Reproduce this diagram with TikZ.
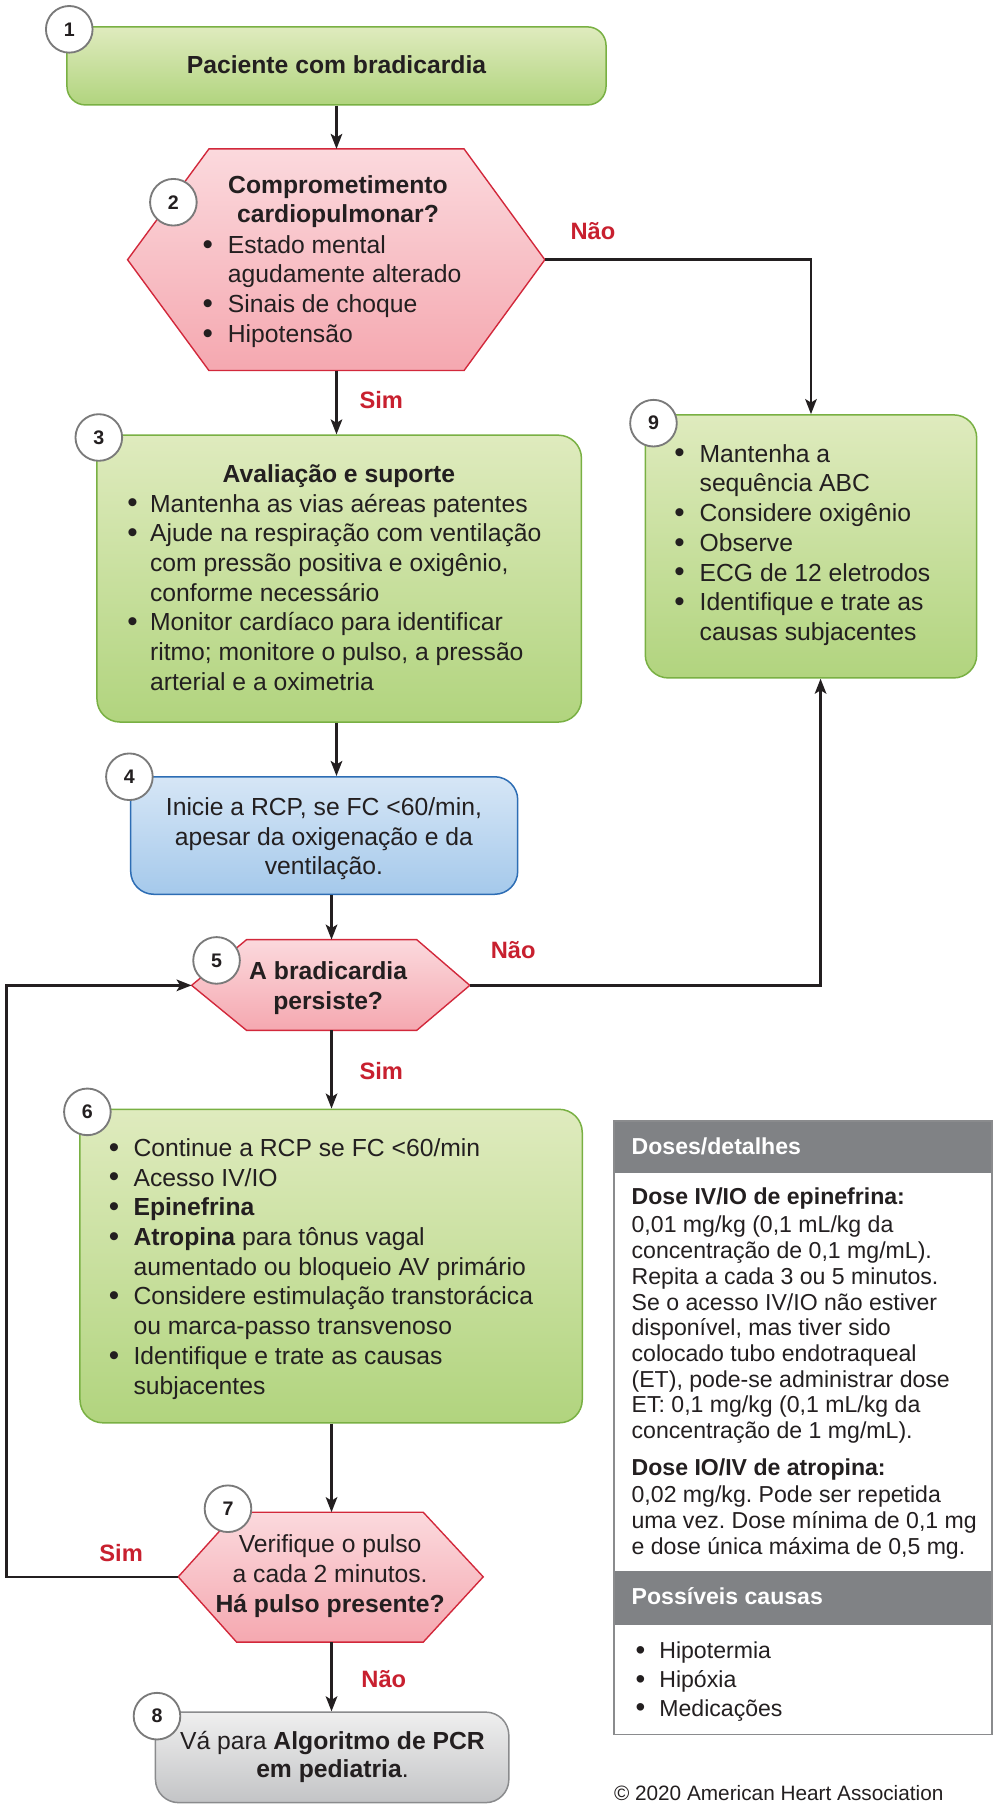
\documentclass[tikz,border=0pt]{standalone}
\usepackage{fontspec}
\setmainfont{Liberation Sans}
\usetikzlibrary{arrows.meta}
\definecolor{gtop}{HTML}{DFEBBE}
\definecolor{gbot}{HTML}{B1D47E}
\definecolor{gline}{HTML}{79B043}
\definecolor{ptop}{HTML}{FBD9DD}
\definecolor{pbot}{HTML}{F5A8B0}
\definecolor{pline}{HTML}{D2283B}
\definecolor{btop}{HTML}{D6E6F6}
\definecolor{bbot}{HTML}{A5C9EB}
\definecolor{bline}{HTML}{2D6DB4}
\definecolor{ytop}{HTML}{EFEFEF}
\definecolor{ybot}{HTML}{C3C4C6}
\definecolor{yline}{HTML}{8A8B8D}
\definecolor{hdr}{HTML}{808285}
\definecolor{red1}{HTML}{C8202F}
\definecolor{ink}{HTML}{231F20}
\definecolor{ngray}{HTML}{7A7A7A}
\newlength{\bind}
\newcommand{\bitem}[1]{\par\hangindent=\bind\hangafter=1\noindent\makebox[\bind][l]{\raisebox{-0.03em}{\scalebox{1.2}{\textbullet}}}#1}
\newcommand{\fmain}{\fontsize{21.4}{25.75}\selectfont}
\newcommand{\fdose}{\fontsize{20}{22.25}\selectfont}
\hyphenpenalty=10000
\frenchspacing
\begin{document}
\frenchspacing
\begin{tikzpicture}[x=1pt,y=-1pt,
  gbox/.style={draw=gline, line width=1.3pt, rounded corners=20pt, top color=gtop, bottom color=gbot, inner sep=0},
  bbox/.style={draw=bline, line width=1.3pt, rounded corners=20pt, top color=btop, bottom color=bbot, inner sep=0},
  ybox/.style={draw=yline, line width=1.3pt, rounded corners=20pt, top color=ytop, bottom color=ybot, inner sep=0},
  hexp/.style={draw=pline, line width=1.2pt, top color=ptop, bottom color=pbot},
  num/.style={circle, draw=ngray, line width=1.6pt, fill=white, minimum size=40.4pt, inner sep=0, font=\fontsize{17}{17}\selectfont\bfseries, text=ink},
  arr/.style={draw=ink, line width=2.2pt, -{Stealth[length=13pt,width=10pt,inset=3pt]}},
  lbl/.style={text=red1, font=\fontsize{20.5}{20.5}\selectfont\bfseries, inner sep=0},
  tx/.style={inner sep=0, text=ink, font=\fmain},
  tb/.style={tx, anchor=base west},
  tc/.style={tx, anchor=base},
  hdrbox/.style={fill=hdr, draw=none, inner sep=0, minimum width=327.6pt},
  htxt/.style={inner sep=0, anchor=base west, text=white, font=\fontsize{20}{22}\selectfont\bfseries},
  dtxt/.style={inner sep=0, anchor=base west, text=ink, font=\fdose},
]
\fill[white] (0,0) rectangle (866,1568);
\useasboundingbox (0,0) rectangle (866,1568);

% ---------- boxes ----------
\node[gbox, rounded corners=16pt, minimum width=467pt, minimum height=67.6pt] (b1) at (291.5,57.1) {};
\node[gbox, minimum width=419.7pt, minimum height=248.5pt] (b3) at (293.85,501.25) {};
\node[gbox, minimum width=287.1pt, minimum height=227.9pt] (b9) at (702.55,473.35) {};
\node[bbox, minimum width=335.3pt, minimum height=101.8pt] (b4) at (280.85,723.8) {};
\node[gbox, minimum width=435.1pt, minimum height=271.6pt] (b6) at (286.85,1096.8) {};
\node[ybox, minimum width=306.1pt, minimum height=78.4pt] (b8) at (287.75,1522.4) {};

% ---------- hexagons ----------
\coordinate (h2w) at (110.5,225);  \coordinate (h2e) at (472,225);
\coordinate (h2nw) at (181,129);   \coordinate (h2ne) at (402,129);
\coordinate (h2sw) at (181,321);   \coordinate (h2se) at (402,321);
\coordinate (h2n) at (291.5,129);  \coordinate (h2s) at (291.5,321);
\path[hexp] (h2w) -- (h2nw) -- (h2ne) -- (h2e) -- (h2se) -- (h2sw) -- cycle;

\coordinate (h5w) at (166,853.6);  \coordinate (h5e) at (407,853.6);
\coordinate (h5nw) at (213.6,814); \coordinate (h5ne) at (361,814);
\coordinate (h5sw) at (213.6,892.6); \coordinate (h5se) at (361,892.6);
\coordinate (h5n) at (287.2,814);  \coordinate (h5s) at (287.2,892.6);
\path[hexp] (h5w) -- (h5nw) -- (h5ne) -- (h5e) -- (h5se) -- (h5sw) -- cycle;

\coordinate (h7w) at (154.4,1366); \coordinate (h7e) at (418.6,1366);
\coordinate (h7nw) at (205,1310);  \coordinate (h7ne) at (366.6,1310);
\coordinate (h7sw) at (205,1422.6); \coordinate (h7se) at (366.6,1422.6);
\coordinate (h7n) at (287.2,1310); \coordinate (h7s) at (287.2,1422.6);
\path[hexp] (h7w) -- (h7nw) -- (h7ne) -- (h7e) -- (h7se) -- (h7sw) -- cycle;

% ---------- doses box ----------
\node[hdrbox, minimum height=45pt] (dh1) at (695.7,993.9) {};
\node[hdrbox, minimum height=46.2pt] (dh2) at (695.7,1384.2) {};
\node[draw=yline, line width=1.6pt, inner sep=0, minimum width=327.6pt, minimum height=531.2pt] (dbox) at (695.7,1237) {};

% ---------- connectors ----------
\draw[arr] (b1.south) -- (h2n);
\draw[arr] (h2s) -- (h2s |- b3.north);
\draw[arr] (h2e) -| (b9.north);
\draw[arr] (h2s |- b3.south) -- (h2s |- b4.north);
\draw[arr] (h5n |- b4.south) -- (h5n);
\draw[arr] (h5e) -| ([xshift=8.3pt]b9.south);
\draw[arr] (h5s) -- (h5s |- b6.north);
\draw[arr] (h7n |- b6.south) -- (h7n);
\draw[arr] (h7s) -- (h7s |- b8.north);
\coordinate (loopc) at (5.5,1366);
\draw[arr] (h7w) -- (loopc) |- (h5w);

% ---------- labels ----------
\node[lbl] (l1) at (513.6,200) {Não};
\node[lbl] (l2) at (330.3,346.4) {Sim};
\node[lbl] (l3) at (444.6,822.9) {Não};
\node[lbl] (l4) at (330.3,927.7) {Sim};
\node[lbl] (l5) at (104.9,1345.2) {Sim};
\node[lbl] (l6) at (332.5,1454.3) {Não};

% ---------- numbers ----------
\node[num] (n1) at (60,25.4) {1};
\node[num] (n2) at (150.2,175.2) {2};
\node[num] (n3) at (85.6,379) {3};
\node[num] (n4) at (112.1,672.9) {4};
\node[num] (n5) at (187.6,832) {5};
\node[num] (n6) at (75.7,963.2) {6};
\node[num] (n7) at (197.5,1307) {7};
\node[num] (n8) at (136,1486.7) {8};
\node[num] (n9) at (566.1,366.6) {9};

% ---------- texts ----------
\node[tc, font=\fmain\bfseries] (t1) at (291.5,64.1) {Paciente com bradicardia};

\node[tc] (t2a) at (292.8,167.4) {\parbox[t]{300pt}{\centering\bfseries Comprometimento\\cardiopulmonar?}};
\node[tb] (t2b) at (175.4,219.4) {\parbox[t]{500pt}{\setlength{\bind}{21.8pt}%
\bitem{Estado mental\newline agudamente alterado}%
\bitem{Sinais de choque}%
\bitem{Hipotensão}}};

\node[tc, font=\fmain\bfseries] (t3a) at (293.6,417.8) {Avaliação e suporte};
\node[tb] (t3b) at (110.2,443.6) {\parbox[t]{500pt}{\setlength{\bind}{19.6pt}%
\bitem{Mantenha as vias aéreas patentes}%
\bitem{Ajude na respiração com ventilação\newline com pressão positiva e oxigênio,\newline conforme necessário}%
\bitem{Monitor cardíaco para identificar\newline ritmo; monitore o pulso, a pressão\newline arterial e a oximetria}}};

\node[tb] (t9) at (584.1,400.4) {\parbox[t]{500pt}{\setlength{\bind}{21.8pt}%
\bitem{Mantenha a\newline sequência ABC}%
\bitem{Considere oxigênio}%
\bitem{Observe}%
\bitem{ECG de 12 eletrodos}%
\bitem{Identifique e trate as\newline causas subjacentes}}};

\node[tc] (t4) at (280.6,706.3) {\parbox[t]{400pt}{\centering Inicie a RCP, se FC <60/min,\\apesar da oxigenação e da\\ventilação.}};

\node[tc] (t5) at (284.3,848.7) {\parbox[t]{300pt}{\centering\bfseries A bradicardia\\persiste?}};

\node[tb] (t6) at (94.1,1001.7) {\parbox[t]{500pt}{\setlength{\bind}{21.4pt}%
\bitem{Continue a RCP se FC <60/min}%
\bitem{Acesso IV/IO}%
\bitem{\textbf{Epinefrina}}%
\bitem{\textbf{Atropina} para tônus vagal\newline aumentado ou bloqueio AV primário}%
\bitem{Considere estimulação transtorácica\newline ou marca-passo transvenoso}%
\bitem{Identifique e trate as causas\newline subjacentes}}};

\node[tc] (t7) at (286,1345.2) {\parbox[t]{300pt}{\centering Verifique o pulso\\a cada 2 minutos.\\\textbf{Há pulso presente?}}};

\node[tc, font=\fontsize{21.4}{24.5}\selectfont] (t8) at (288,1515.6) {\parbox[t]{400pt}{\centering Vá para \textbf{Algoritmo de PCR}\\\textbf{em pediatria}.}};

% ---------- doses texts ----------
\node[htxt] (th1) at (547,1000.3) {Doses/detalhes};
\node[dtxt, font=\fdose\bfseries] (td1) at (547,1043.6) {Dose IV/IO de epinefrina:};
\node[dtxt] (td2) at (547,1068.1) {\parbox[t]{400pt}{0,01 mg/kg (0,1 mL/kg da\newline concentração de 0,1 mg/mL).\newline Repita a cada 3 ou 5 minutos.\newline Se o acesso IV/IO não estiver\newline disponível, mas tiver sido\newline colocado tubo endotraqueal\newline (ET), pode-se administrar dose\newline ET: 0,1 mg/kg (0,1 mL/kg da\newline concentração de 1 mg/mL).}};
\node[dtxt, font=\fdose\bfseries] (td3) at (547,1278.3) {Dose IO/IV de atropina:};
\node[dtxt, font=\fontsize{20}{22.4}\selectfont] (td4) at (547,1301.9) {\parbox[t]{400pt}{0,02 mg/kg. Pode ser repetida\newline uma vez. Dose mínima de 0,1 mg\newline e dose única máxima de 0,5 mg.}};
\node[htxt] (th2) at (547,1390) {Possíveis causas};
\node[dtxt, font=\fontsize{20}{24.85}\selectfont] (td5) at (550.4,1437) {\parbox[t]{300pt}{\setlength{\bind}{20.6pt}%
\bitem{Hipotermia}%
\bitem{Hipóxia}%
\bitem{Medicações}}};

\node[inner sep=0, anchor=base west, text=ink, font=\fontsize{18}{18}\selectfont] (cp) at (531.7,1559.4) {© 2020 American Heart Association};
\end{tikzpicture}
\end{document}
